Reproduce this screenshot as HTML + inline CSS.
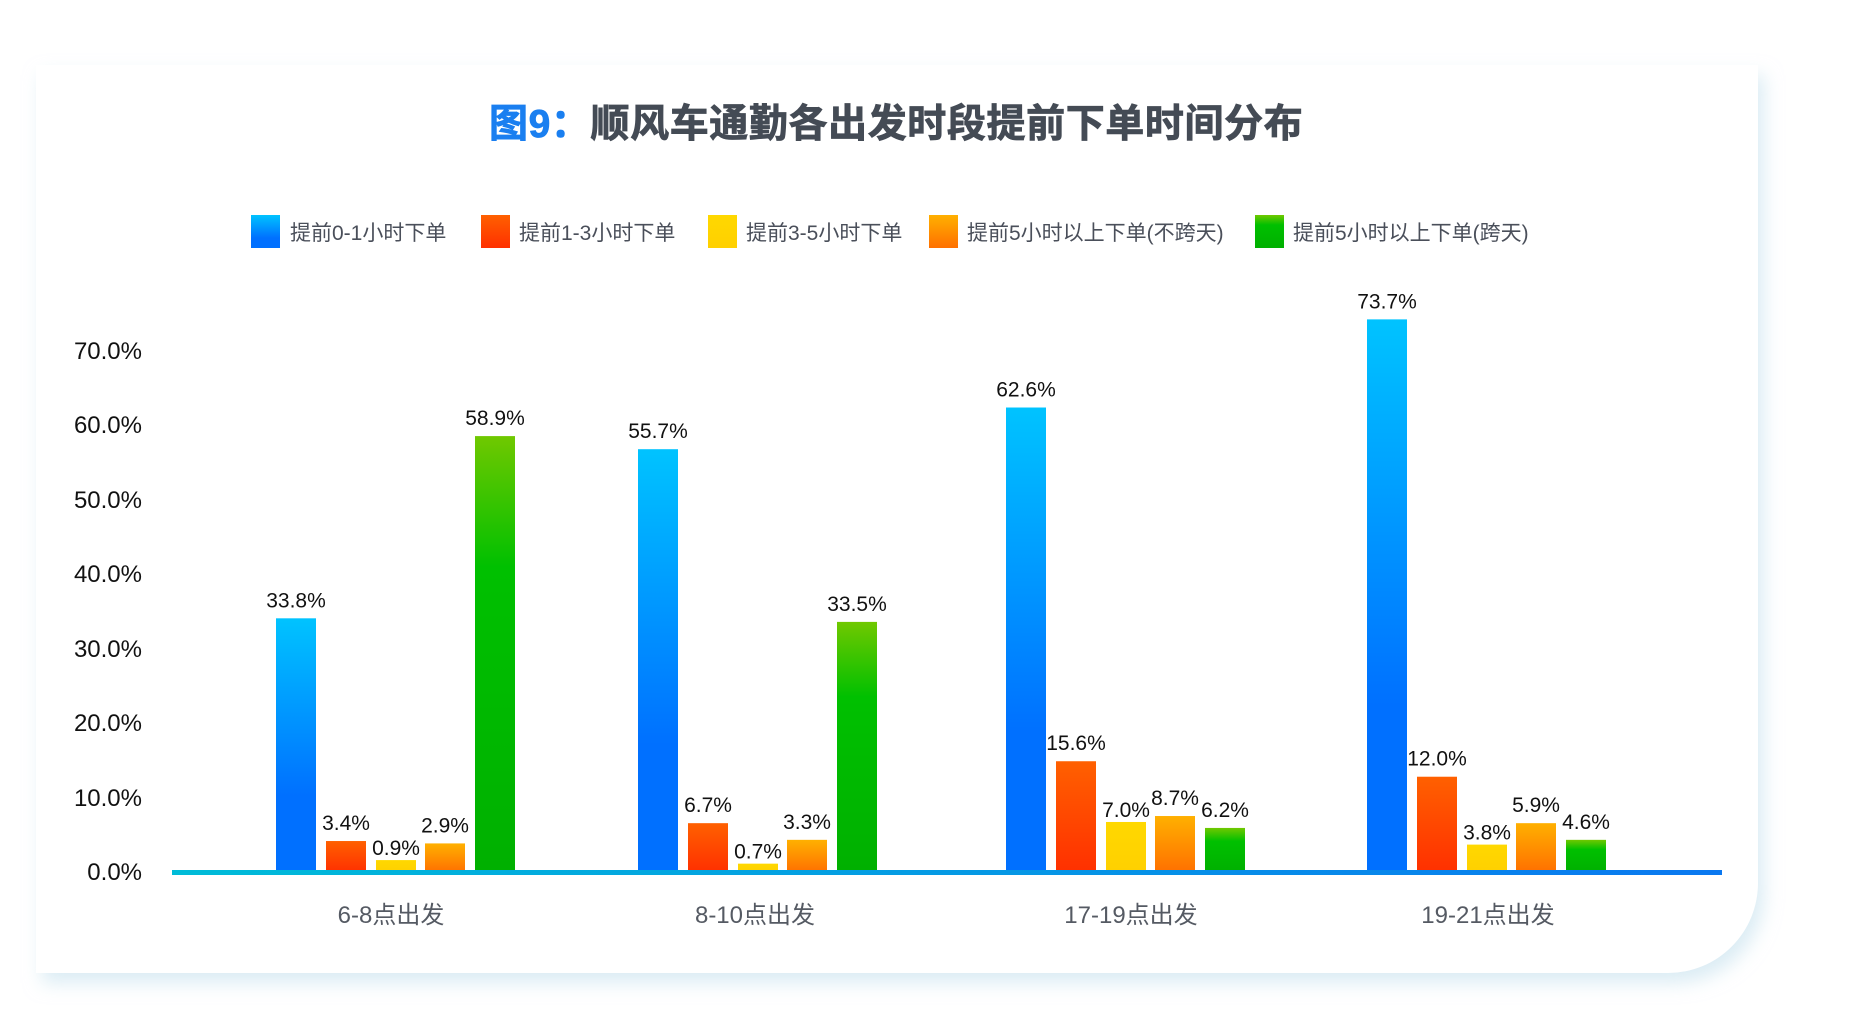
<!DOCTYPE html>
<html><head><meta charset="utf-8"><style>
html,body{margin:0;padding:0;background:#fff;}
body{width:1866px;height:1034px;position:relative;overflow:hidden;font-family:"Liberation Sans","Noto Sans CJK SC",sans-serif;}
.card{position:absolute;left:36px;top:65px;width:1722px;height:908px;background:#fff;border-radius:0 0 90px 0;box-shadow:6px 10px 18px rgba(190,220,235,0.55);}
svg{position:absolute;left:0;top:0;}
</style></head><body>
<div class="card"></div>
<svg width="1866" height="1034" viewBox="0 0 1866 1034" font-family="Liberation Sans, Noto Sans CJK SC, sans-serif">
<defs>
<linearGradient id="gb" x1="0" y1="0" x2="0" y2="1"><stop offset="0" stop-color="#00c3ff"/><stop offset="0.7" stop-color="#0070ff"/><stop offset="1" stop-color="#0070ff"/></linearGradient>
<linearGradient id="gr" x1="0" y1="0" x2="0" y2="1"><stop offset="0" stop-color="#ff6000"/><stop offset="1" stop-color="#ff3000"/></linearGradient>
<linearGradient id="gy" x1="0" y1="0" x2="0" y2="1"><stop offset="0" stop-color="#ffd800"/><stop offset="1" stop-color="#ffd000"/></linearGradient>
<linearGradient id="go" x1="0" y1="0" x2="0" y2="1"><stop offset="0" stop-color="#ffb000"/><stop offset="1" stop-color="#ff7000"/></linearGradient>
<linearGradient id="gg" x1="0" y1="0" x2="0" y2="1"><stop offset="0" stop-color="#70c800"/><stop offset="0.3" stop-color="#00c000"/><stop offset="1" stop-color="#00b000"/></linearGradient>
<linearGradient id="ax" x1="0" y1="0" x2="1" y2="0"><stop offset="0" stop-color="#00bcd8"/><stop offset="1" stop-color="#0a78f0"/></linearGradient>
<linearGradient id="gl" x1="0" y1="0" x2="1" y2="0"><stop offset="0" stop-color="#5fd0ea"/><stop offset="1" stop-color="#4a9ae8"/></linearGradient>
</defs>
<text x="489" y="137" font-size="39" font-weight="bold" letter-spacing="0.6" fill="#444b55" stroke="#444b55" stroke-width="0.8"><tspan fill="#1a7ff0" stroke="#1a7ff0">图9：</tspan>顺风车通勤各出发时段提前下单时间分布</text>
<g font-size="21" fill="#4a4f5a">
<rect x="251" y="215" width="29" height="33" fill="url(#gb)"/><text x="290" y="240">提前0-1小时下单</text>
<rect x="481" y="215" width="29" height="33" fill="url(#gr)"/><text x="519" y="240">提前1-3小时下单</text>
<rect x="708" y="215" width="29" height="33" fill="url(#gy)"/><text x="746" y="240">提前3-5小时下单</text>
<rect x="929" y="215" width="29" height="33" fill="url(#go)"/><text x="967" y="240">提前5小时以上下单(不跨天)</text>
<rect x="1255" y="215" width="29" height="33" fill="url(#gg)"/><text x="1293" y="240">提前5小时以上下单(跨天)</text>
</g>
<g stroke="url(#gl)" stroke-width="2">
<line x1="172" y1="351" x2="1722" y2="351"/><line x1="172" y1="425.5" x2="1722" y2="425.5"/><line x1="172" y1="500" x2="1722" y2="500"/><line x1="172" y1="574" x2="1722" y2="574"/><line x1="172" y1="648.5" x2="1722" y2="648.5"/><line x1="172" y1="723" x2="1722" y2="723"/><line x1="172" y1="797.5" x2="1722" y2="797.5"/>
</g>
<g font-size="24" fill="#111" text-anchor="end">
<text x="142" y="359">70.0%</text><text x="142" y="433">60.0%</text><text x="142" y="508">50.0%</text><text x="142" y="582">40.0%</text><text x="142" y="657">30.0%</text><text x="142" y="731">20.0%</text><text x="142" y="806">10.0%</text><text x="142" y="880">0.0%</text>
</g>
<g id="bars"></g>
<rect x="172" y="870" width="1550" height="5" fill="url(#ax)"/>
<g font-size="24" fill="#555a63" text-anchor="middle">
<text x="391" y="923">6-8点出发</text><text x="755" y="923">8-10点出发</text><text x="1131" y="923">17-19点出发</text><text x="1488" y="923">19-21点出发</text>
</g>
</svg>
<script>
var starts=[276,638,1006,1367],offs=[0,50,100,149,199],fills=['gb','gr','gy','go','gg'];
var data=[[33.8,3.4,0.9,2.9,58.9],[55.7,6.7,0.7,3.3,33.5],[62.6,15.6,7.0,8.7,6.2],[73.7,12.0,3.8,5.9,4.6]];
var tops=[[519,706,722,708,366],[377,691,725,705,522],[342,639,690,685,695],[268,652,709,691,705]];
var g=document.getElementById('bars'),s='';
for(var i=0;i<4;i++)for(var j=0;j<5;j++){var v=data[i][j],h=(732-tops[i][j])*1.191,x=starts[i]+offs[j],y=872-h;
s+='<rect x="'+x+'" y="'+y+'" width="40" height="'+h+'" fill="url(#'+fills[j]+')"/>';
var ty=y-11;
if(j==2)ty=y-5;
s+='<text x="'+(x+20)+'" y="'+ty+'" font-size="21" fill="#111" text-anchor="middle">'+v.toFixed(1)+'%</text>';}
g.innerHTML=s;
</script>
</body></html>
